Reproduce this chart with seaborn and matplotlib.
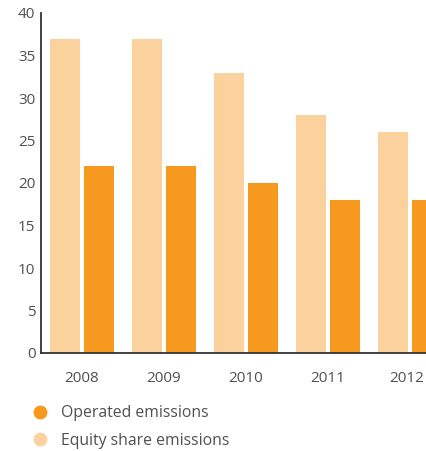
import matplotlib
matplotlib.use("Agg")
import matplotlib.pyplot as plt
import matplotlib.transforms as mtransforms
from matplotlib.lines import Line2D
import seaborn as sns
import pandas as pd

years = ["2008", "2009", "2010", "2011", "2012"]
operated = [22, 22, 20, 18, 18]
equity = [37, 37, 33, 28, 26]
series_names = ["Operated emissions", "Equity share emissions"]
y_ticks = [0, 5, 10, 15, 20, 25, 30, 35, 40]

colors = {"Operated emissions": "#F7991F", "Equity share emissions": "#FBD29E"}

df = pd.DataFrame({
    "year": years * 2,
    "value": equity + operated,
    "series": [series_names[1]] * len(years) + [series_names[0]] * len(years),
})

sns.set_theme(style="white")
plt.rcParams["font.family"] = ["Open Sans", "DejaVu Sans"]

fig = plt.figure(figsize=(4.26, 4.51), dpi=100)
ax = fig.add_axes([41 / 426, 98 / 451, 1 - 41 / 426, 340 / 451])

sns.barplot(
    data=df, x="year", y="value", hue="series",
    hue_order=[series_names[1], series_names[0]],
    palette=colors, width=0.83, gap=0.12, saturation=1,
    linewidth=0, legend=False, ax=ax,
)

ax.set_ylim(0, 40)
ax.set_xlim(-0.5, 4.195)
ax.set_yticks(y_ticks)
ax.set_xlabel("")
ax.set_ylabel("")

text_color = "#505050"
ax.tick_params(axis="both", length=0, labelsize=11, colors=text_color)
ax.tick_params(axis="x", pad=13)
ax.tick_params(axis="y", pad=4)

# keep the last year label inside the right edge of the figure
last = ax.get_xticklabels()[-1]
last.set_transform(last.get_transform() +
                   mtransforms.ScaledTranslation(-3 / 100, 0, fig.dpi_scale_trans))

for side in ["top", "right"]:
    ax.spines[side].set_visible(False)
for side in ["left", "bottom"]:
    ax.spines[side].set_color("#333333")
    ax.spines[side].set_linewidth(1.3)

handles = [
    Line2D([0], [0], marker="o", linestyle="", markersize=9,
           markerfacecolor=colors[n], markeredgecolor=colors[n], label=n)
    for n in series_names
]
fig.legend(
    handles=handles, loc="upper left", bbox_to_anchor=(24 / 426, 1 - 405 / 451),
    frameon=False, fontsize=11.3, labelcolor=text_color,
    handletextpad=0.35, labelspacing=0.75, borderaxespad=0, borderpad=0,
)

fig.savefig("out.png", dpi=100)
